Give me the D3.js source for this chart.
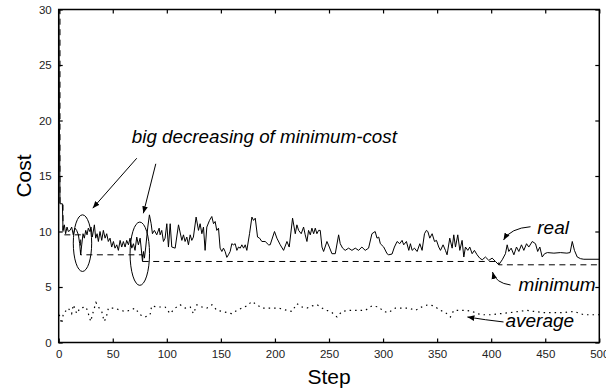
<!DOCTYPE html>
<html>
<head>
<meta charset="utf-8">
<script src="https://cdn.jsdelivr.net/npm/d3@7"></script>
<style>
  body { margin: 0; background: #fff; }
  text { font-family: "Liberation Sans", Arial, sans-serif; }
</style>
</head>
<body>
<div id="chart"></div>
<script>
// real cost per step [step, cost]
var realCost = [
  [0,30],[1.2,12.5],[3.4,12.5],[4,10.1],[5.2,10.6],[6.4,9.8],[7.7,10.4],[8.9,10.0],[10.5,10.1],[12,10.4],
  [13.5,9.7],[15.1,10.3],[16.6,10.1],[18.2,9.7],[19.4,8.9],[20.3,7.9],[21.3,8.8],[22.5,9.8],[23.7,9.4],[25,10.1],
  [26.2,9.7],[27.4,10.3],[28.7,10.0],[29.9,10.4],[31.1,9.5],[33,10.6],[34.2,9.4],[35.5,9.8],[36.7,9.1],[38.2,10.0],
  [39.8,9.2],[41.3,10.1],[42.9,9.4],[44.4,9.8],[45.9,9.1],[47.5,9.4],[49,8.6],[50.6,9.1],[52.1,8.5],[53.7,8.8],
  [55.2,8.3],[56.8,9.2],[58.3,8.6],[59.8,9.1],[61.4,8.6],[62.9,9.2],[64.5,8.8],[66,9.4],[67.6,8.5],[69.1,8.9],
  [70.6,8.3],[72.2,9.5],[73.7,8.8],[75.3,9.4],[76.2,8.6],[77.5,7.3],[78.4,8.2],[79.3,7.6],[80.5,8.6],[82.4,10.4],
  [83.9,11.5],[85.5,10.7],[86.7,9.8],[88.5,10.1],[90.7,9.7],[92.9,10.3],[93.8,9.7],[95.3,10.1],[96.9,9.1],[98.4,9.4],
  [100,10.7],[101.5,8.6],[103.1,10.7],[104.6,8.6],[107.7,8.5],[110.8,10.6],[113.9,9.2],[115.4,9.7],[116.9,9.1],[118.5,9.5],
  [120,8.8],[121.6,9.7],[123.1,9.2],[124.6,9.5],[127.1,11.3],[129.3,10.1],[130.8,10.7],[132.4,9.8],[133.9,10.4],[135.4,8.3],
  [137,10.4],[139.5,11.0],[141.6,11.35],[143.2,10.7],[144.7,10.9],[146.2,10.1],[147.8,10.3],[149.3,8.5],[150.9,8.2],[152.4,8.5],
  [153.9,8.2],[155.5,7.67],[157,7.9],[158.6,8.2],[160.1,8.9],[161.7,8.8],[163.2,8.9],[164.8,8.3],[166.3,8.6],[167.9,8.5],
  [169.4,8.8],[171,8.5],[172.5,8.8],[174,8.3],[176.5,9.8],[178.7,11.3],[180.2,11.0],[181.8,11.2],[183.9,9.5],[185.8,9.4],
  [187.9,9.1],[191,9.1],[194.1,8.8],[195.6,8.8],[199.6,10.0],[201.8,9.4],[204.9,8.8],[208,8.3],[211.1,9.1],[213.2,8.6],
  [216.3,11.2],[218.8,9.8],[220.3,10.6],[221.9,10.1],[224.3,9.8],[226.5,10.4],[228,9.7],[229.6,9.1],[231.1,10.1],[232.7,9.7],
  [234.2,10.3],[235.8,9.8],[237.3,10.3],[238.8,9.8],[240.4,10.1],[241.9,10.1],[243.5,8.6],[245,8.2],[248.1,9.1],[250.3,8.6],
  [252.7,8.0],[255.8,8.0],[258.9,9.7],[260.4,8.9],[262.6,8.5],[265,8.3],[268.1,8.5],[271.2,8.3],[274.3,8.5],[277.4,8.3],
  [280.4,8.6],[283.5,8.3],[286.6,8.5],[289.7,9.8],[292.7,10.0],[294.4,9.4],[296,9.5],[297.5,8.9],[300.6,8.6],[303.7,8.0],
  [305.2,7.9],[308.3,7.97],[310.5,8.6],[313,9.1],[315.4,8.9],[317.6,9.2],[319.1,8.8],[321.6,9.1],[323.8,8.3],[325.3,8.9],
  [326.9,8.3],[329,8.5],[331.5,8.2],[334,8.9],[336.1,8.3],[338.3,9.8],[340.1,10.1],[341.4,10.0],[343.2,9.4],[345.4,9.8],
  [347.6,9.1],[349.4,9.2],[351.5,8.6],[353.1,8.3],[355.5,8.8],[357.7,8.3],[359.2,7.9],[361.7,9.4],[363.9,8.5],[365.4,9.7],
  [367,8.6],[369.1,9.7],[371,8.3],[373.1,9.2],[374.7,7.7],[376.2,8.6],[378.4,8.3],[380.2,8.6],[382.4,8.0],[384.5,8.3],
  [387,7.9],[389.4,7.6],[391.7,7.45],[394.7,7.7],[397.8,7.4],[400.9,7.6],[404,7.3],[407,7.0],[410.2,7.45],[413.2,8.0],
  [414.8,8.8],[416.3,8.2],[418.5,8.5],[421,7.9],[423.4,8.6],[425.6,8.2],[428,8.8],[430.2,8.3],[432.7,8.9],[434.8,8.6],
  [438,9.1],[441,8.9],[443,8.2],[445,8.6],[447.2,7.7],[449.4,8.0],[452,8.1],[458,8.05],[464,8.1],[470,8.05],
  [473,8.1],[475,9.1],[477,8.3],[479.6,7.7],[482.7,7.55],[485.7,7.5],[500,7.5]
];

// minimum cost so far (step changes)
var minimumCost = [[0,30],[1.2,12.5],[4,9.7],[20.3,7.9],[77.5,7.3],[407,7.0],[500,7.0]];

// average cost
var averageCost = [
  [0.5,2.5],[2.8,1.7],[4.3,2.6],[8.9,3.1],[12,2.6],[13.5,3.4],[16.7,2.6],[19.7,3.1],[25.3,3.2],[27.4,2.6],
  [29.6,1.9],[32,2.8],[34.5,3.6],[36.7,3.2],[39.8,2.8],[42,1.9],[43.8,2.2],[46,3.1],[52,3.1],[56.8,2.9],
  [61.4,2.8],[66,2.9],[70.6,3.1],[75.3,2.5],[79.9,2.3],[84.5,2.5],[86,3.3],[90.7,3.2],[98.4,3.2],[103,2.6],
  [107.7,3.1],[112.3,3.4],[117,3.1],[121.6,3.2],[124.6,2.6],[127.8,3.4],[132.4,3.2],[137,3.1],[141.7,3.4],[146.3,2.9],
  [151,2.8],[155.5,2.7],[160,2.6],[164.8,2.9],[169.4,3.1],[174,3.3],[178.7,3.7],[183.3,3.4],[188,3.1],[195.6,3.1],
  [203.3,3.1],[211,2.9],[215.7,2.8],[220.4,3.5],[225,3.2],[229.6,3.1],[234.3,3.3],[239,3.4],[243.6,3.1],[248,2.9],
  [252.7,2.7],[257.4,2.3],[262,2.8],[268,2.9],[276,2.9],[283.6,2.9],[289.8,3.3],[296,3.2],[300.5,2.8],[305,2.7],
  [311.4,3.1],[316,3.1],[323.7,3.1],[330,2.9],[337.6,3.3],[342.2,3.4],[346.9,3.3],[353,2.9],[357.7,2.7],[362.3,2.3],
  [365.4,2.9],[370,2.9],[376,2.9],[382.4,2.8],[387,2.6],[393,2.5],[399.4,2.5],[408.6,2.6],[418,2.7],[425.6,2.8],
  [433.3,2.9],[439.4,2.8],[448.7,2.7],[458,2.7],[467,2.7],[476.5,2.8],[485.7,2.5],[495,2.5],[500,2.5]
];

var xTicks = [0, 50, 100, 150, 200, 250, 300, 350, 400, 450, 500];
var yTicks = [0, 5, 10, 15, 20, 25, 30];

// annotations in data units
var ellipses = [{ cx: 22, cy: 8.95, rx: 8.5, ry: 2.55 }, { cx: 75, cy: 8.0, rx: 9, ry: 2.85 }];
var bigArrows = [{ x1: 72.2, y1: 16.6, x2: 31.5, y2: 12.1 }, { x1: 89.8, y1: 16.1, x2: 78.3, y2: 11.64 }];
var labels = [
  { text: "big decreasing of minimum-cost", x: 67.6, y: 18.0, anchor: "start", size: 18.8 },
  { text: "real", x: 442.6, y: 9.77, anchor: "start", size: 19 },
  { text: "minimum", x: 496.6, y: 4.64, anchor: "end", size: 19 },
  { text: "average", x: 413.2, y: 1.4, anchor: "start", size: 19 }
];
var curvedArrows = [
  { from: [436.4, 10.43], ctrl: [417.9, 10.3], to: [411.4, 9.23] },
  { from: [417.9, 5.18], ctrl: [404, 5.36], to: [401.2, 6.35] },
  { from: [411.4, 1.85], ctrl: [394.7, 2.03], to: [378, 2.3] }
];

var width = 606, height = 391;
var margin = { top: 9.5, right: 6.7, bottom: 48.5, left: 58.7 };
var w = width - margin.left - margin.right,
    h = height - margin.top - margin.bottom;

var svg = d3.select("#chart").append("svg")
    .attr("width", width)
    .attr("height", height);

var defs = svg.append("defs");
defs.append("clipPath").attr("id", "clip")
    .append("rect").attr("width", w).attr("height", h);
defs.append("marker")
    .attr("id", "head")
    .attr("viewBox", "0 0 10 10")
    .attr("refX", 10).attr("refY", 5)
    .attr("markerWidth", 7).attr("markerHeight", 7)
    .attr("markerUnits", "userSpaceOnUse")
    .attr("orient", "auto")
    .append("path").attr("d", "M0,1 L10,5 L0,9 Z").attr("fill", "#000");

var g = svg.append("g")
    .attr("transform", "translate(" + margin.left + "," + margin.top + ")");

var x = d3.scaleLinear().domain([0, 500]).range([0, w]);
var y = d3.scaleLinear().domain([0, 30]).range([h, 0]);

// axes, ticks pointing inward on all four sides
g.append("g").attr("class", "axis")
    .attr("transform", "translate(0," + h + ")")
    .call(d3.axisBottom(x).tickValues(xTicks).tickSizeInner(-4).tickSizeOuter(0).tickPadding(7.5));
g.append("g").attr("class", "axis")
    .call(d3.axisLeft(y).tickValues(yTicks).tickSizeInner(-4).tickSizeOuter(0).tickPadding(7));
g.append("g").attr("class", "axis")
    .call(d3.axisTop(x).tickValues(xTicks).tickSizeInner(-4).tickSizeOuter(0).tickFormat(""));
g.append("g").attr("class", "axis")
    .attr("transform", "translate(" + w + ",0)")
    .call(d3.axisRight(y).tickValues(yTicks).tickSizeInner(-4).tickSizeOuter(0).tickFormat(""));

g.selectAll(".axis .domain").remove();
g.selectAll(".axis line").attr("stroke", "#000").attr("stroke-width", 1.2);
g.selectAll(".axis text")
    .attr("font-family", "Liberation Sans, Arial, sans-serif")
    .attr("font-size", "11.5px")
    .attr("fill", "#222");

var plot = g.append("g").attr("clip-path", "url(#clip)");

var line = d3.line()
    .x(function (d) { return x(d[0]); })
    .y(function (d) { return y(d[1]); });

plot.append("path")
    .datum(averageCost)
    .attr("d", line)
    .attr("fill", "none")
    .attr("stroke", "#000")
    .attr("stroke-width", 1.2)
    .attr("stroke-dasharray", "1.5,4");

plot.append("path")
    .datum(minimumCost)
    .attr("d", line.curve(d3.curveStepAfter))
    .attr("fill", "none")
    .attr("stroke", "#000")
    .attr("stroke-width", 1)
    .attr("stroke-dasharray", "6,4.5");

plot.append("path")
    .datum(realCost)
    .attr("d", line.curve(d3.curveLinear))
    .attr("fill", "none")
    .attr("stroke", "#000")
    .attr("stroke-width", 1);

// frame
g.append("rect")
    .attr("width", w).attr("height", h)
    .attr("fill", "none")
    .attr("stroke", "#000")
    .attr("stroke-width", 1.5);

// annotations
g.selectAll("ellipse")
    .data(ellipses)
    .enter()
    .append("ellipse")
    .attr("cx", function (d) { return x(d.cx); })
    .attr("cy", function (d) { return y(d.cy); })
    .attr("rx", function (d) { return x(d.rx) - x(0); })
    .attr("ry", function (d) { return y(0) - y(d.ry); })
    .attr("fill", "none")
    .attr("stroke", "#000")
    .attr("stroke-width", 1);

g.selectAll(".big-arrow")
    .data(bigArrows)
    .enter()
    .append("line")
    .attr("class", "big-arrow")
    .attr("x1", function (d) { return x(d.x1); })
    .attr("y1", function (d) { return y(d.y1); })
    .attr("x2", function (d) { return x(d.x2); })
    .attr("y2", function (d) { return y(d.y2); })
    .attr("stroke", "#000")
    .attr("stroke-width", 1)
    .attr("marker-end", "url(#head)");

g.selectAll(".curve-arrow")
    .data(curvedArrows)
    .enter()
    .append("path")
    .attr("class", "curve-arrow")
    .attr("d", function (d) {
        return "M" + x(d.from[0]) + "," + y(d.from[1]) +
            " Q" + x(d.ctrl[0]) + "," + y(d.ctrl[1]) +
            " " + x(d.to[0]) + "," + y(d.to[1]);
    })
    .attr("fill", "none")
    .attr("stroke", "#000")
    .attr("stroke-width", 1)
    .attr("marker-end", "url(#head)");

g.selectAll(".note")
    .data(labels)
    .enter()
    .append("text")
    .attr("class", "note")
    .attr("x", function (d) { return x(d.x); })
    .attr("y", function (d) { return y(d.y); })
    .attr("text-anchor", function (d) { return d.anchor; })
    .attr("font-size", function (d) { return d.size + "px"; })
    .attr("font-style", "italic")
    .attr("fill", "#000")
    .text(function (d) { return d.text; });

// axis titles
svg.append("text")
    .attr("x", margin.left + w / 2)
    .attr("y", 384)
    .attr("text-anchor", "middle")
    .attr("font-size", "21px")
    .text("Step");

svg.append("text")
    .attr("transform", "translate(31," + (margin.top + h / 2) + ") rotate(-90)")
    .attr("text-anchor", "middle")
    .attr("font-size", "21px")
    .text("Cost");
</script>
</body>
</html>
